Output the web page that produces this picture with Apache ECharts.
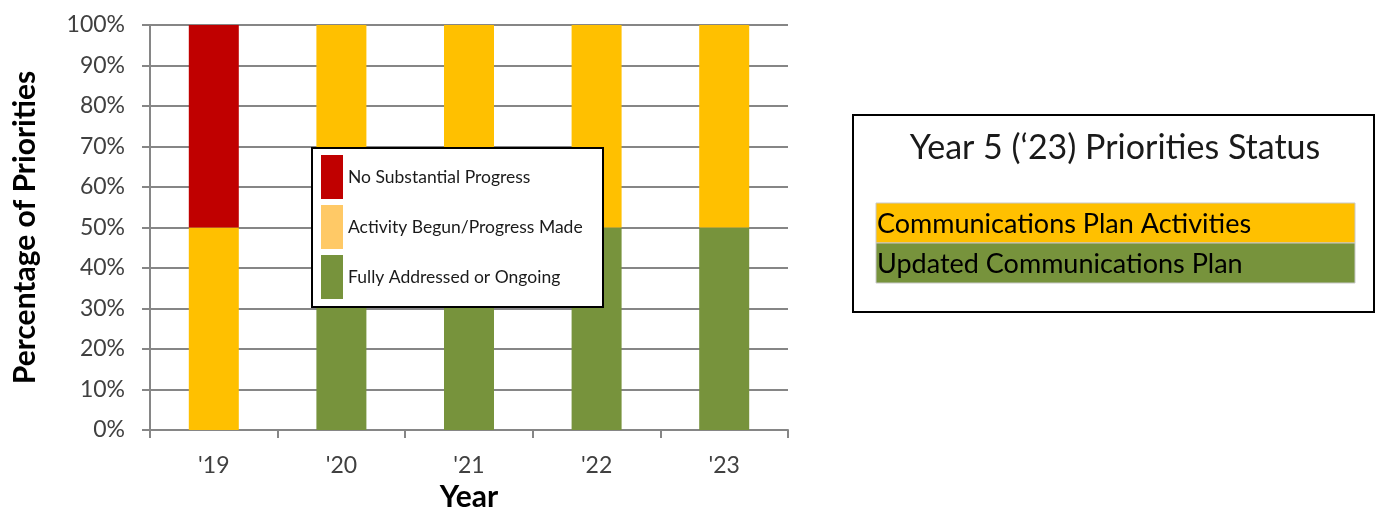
<!DOCTYPE html>
<html>
<head>
<meta charset="utf-8">
<script src="https://cdn.jsdelivr.net/npm/echarts@6/dist/echarts.min.js"></script>
<style>
html,body{margin:0;padding:0;background:#fff;}
#chart{width:1381px;height:508px;}
</style>
</head>
<body>
<div id="chart"></div>
<script>
const categories = ["'19", "'20", "'21", "'22", "'23"];
const fullyAddressed = [0, 50, 50, 50, 50];
const activityBegun = [50, 50, 50, 50, 50];
const noProgress = [50, 0, 0, 0, 0];
const seriesNames = ['Fully Addressed or Ongoing', 'Activity Begun/Progress Made', 'No Substantial Progress'];
const yTicks = [0, 10, 20, 30, 40, 50, 60, 70, 80, 90, 100];
const statusTitle = 'Year 5 (\u201823) Priorities Status';
const statusItems = ['Communications Plan Activities', 'Updated Communications Plan'];

const FONT = 'Lato, "Open Sans", sans-serif';
const GRID = '#868686';
const YELLOW = '#FFC000', RED = '#C00000', GREEN = '#77933C', LEGEND_YELLOW = '#FFC966';

const chart = echarts.init(document.getElementById('chart'), null, {renderer: 'canvas'});
chart.setOption({
  animation: false,
  backgroundColor: '#fff',
  textStyle: {fontFamily: FONT},
  grid: {left: 150, right: 593, top: 25, bottom: 78, containLabel: false, outerBoundsMode: 'none'},
  xAxis: {
    type: 'category',
    data: categories,
    axisLine: {show: true, lineStyle: {color: GRID, width: 2}},
    axisTick: {show: true, length: 8, lineStyle: {color: GRID, width: 2}},
    axisLabel: {fontSize: 23, color: '#404040', margin: 24, fontFamily: FONT},
    name: 'Year',
    nameLocation: 'middle',
    nameGap: 49,
    nameTextStyle: {fontSize: 30, fontWeight: 'bold', color: '#000', fontFamily: FONT}
  },
  yAxis: {
    type: 'value',
    min: yTicks[0],
    max: yTicks[yTicks.length - 1],
    interval: yTicks[1] - yTicks[0],
    axisLine: {show: true, lineStyle: {color: GRID, width: 2}},
    axisTick: {show: true, length: 8, lineStyle: {color: GRID, width: 2}},
    splitLine: {show: true, lineStyle: {color: GRID, width: 2}},
    axisLabel: {fontSize: 23, color: '#404040', margin: 25, formatter: '{value}%', fontFamily: FONT},
    name: 'Percentage of Priorities',
    nameLocation: 'middle',
    nameRotate: 90,
    nameGap: 110,
    nameTextStyle: {fontSize: 30, fontWeight: 'bold', color: '#000', fontFamily: FONT}
  },
  legend: {
    orient: 'vertical',
    left: 321,
    top: 155,
    z: 10,
    padding: 0,
    itemWidth: 22,
    itemHeight: 44,
    itemGap: 6,
    icon: 'rect',
    textStyle: {fontSize: 17.5, color: '#1a1a1a', fontFamily: FONT},
    data: [
      {name: seriesNames[2], itemStyle: {color: RED}},
      {name: seriesNames[1], itemStyle: {color: LEGEND_YELLOW}},
      {name: seriesNames[0], itemStyle: {color: GREEN}}
    ]
  },
  graphic: [
    {type: 'rect', z: 5, shape: {x: 312, y: 148, width: 291, height: 159},
     style: {fill: '#fff', stroke: '#000', lineWidth: 2}},
    {type: 'rect', z: 5, shape: {x: 853, y: 115, width: 521, height: 197},
     style: {fill: '#fff', stroke: '#000', lineWidth: 2}},
    {type: 'text', z: 6, x: 1115, y: 148,
     style: {text: statusTitle, fontSize: 34, fontFamily: FONT, fill: '#1a1a1a', align: 'center', verticalAlign: 'middle'}},
    {type: 'rect', z: 6, shape: {x: 876, y: 203, width: 479, height: 40},
     style: {fill: YELLOW, stroke: '#c8c8c8', lineWidth: 1}},
    {type: 'rect', z: 6, shape: {x: 876, y: 243, width: 479, height: 40},
     style: {fill: GREEN, stroke: '#c8c8c8', lineWidth: 1}},
    {type: 'text', z: 7, x: 877, y: 224,
     style: {text: statusItems[0], fontSize: 27, fontFamily: FONT, fill: '#000', align: 'left', verticalAlign: 'middle'}},
    {type: 'text', z: 7, x: 877, y: 264,
     style: {text: statusItems[1], fontSize: 27, fontFamily: FONT, fill: '#000', align: 'left', verticalAlign: 'middle'}}
  ],
  series: [
    {name: seriesNames[0], type: 'bar', stack: 'total', barWidth: 50, data: fullyAddressed, itemStyle: {color: GREEN}},
    {name: seriesNames[1], type: 'bar', stack: 'total', barWidth: 50, data: activityBegun, itemStyle: {color: YELLOW}},
    {name: seriesNames[2], type: 'bar', stack: 'total', barWidth: 50, data: noProgress, itemStyle: {color: RED}}
  ]
});
</script>
</body>
</html>
